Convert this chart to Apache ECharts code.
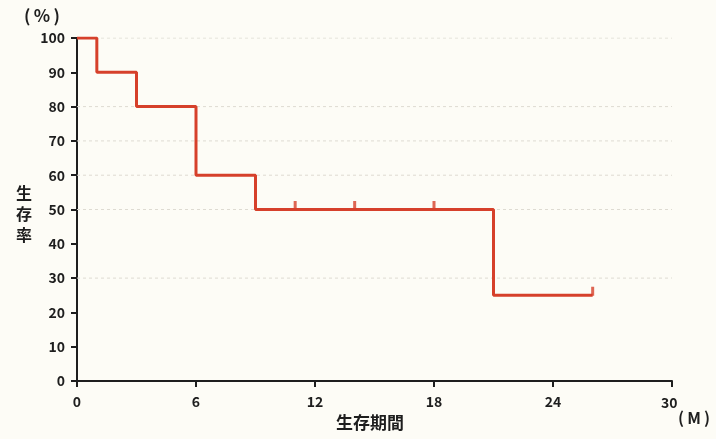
<!DOCTYPE html>
<html>
<head>
<meta charset="utf-8">
<script src="https://cdn.jsdelivr.net/npm/echarts@6/dist/echarts.min.js"></script>
<style>
  html, body { margin: 0; padding: 0; background: #fdfcf6; }
  #chart { width: 716px; height: 439px; }
</style>
</head>
<body>
<div id="chart"></div>
<script>
// Kaplan-Meier survival curve: step changes (months, survival %)
const eventMonths = [0, 1, 3, 6, 9, 21, 26];
const survivalPct = [100, 90, 80, 60, 50, 25, 25];
// censored observations
const censorMonths = [11, 14, 18, 26];
const censorPct = [50, 50, 50, 25];
// dashed reference levels
const gridLevels = [100, 80, 70, 60, 50, 30];

const xTicks = [0, 6, 12, 18, 24, 30];
const yTicks = [0, 10, 20, 30, 40, 50, 60, 70, 80, 90, 100];

const FONT = '"Noto Sans CJK JP", "Noto Sans", sans-serif';
const INK = '#1e1e1e';
const RED = '#d6402b';

const xMin = xTicks[0];
const xMax = xTicks[xTicks.length - 1];
const curve = eventMonths.map((m, i) => [m, survivalPct[i]]);
const censored = censorMonths.map((m, i) => [m, censorPct[i]]);

// faint dashed reference levels, drawn beneath the curve
const levelSeries = gridLevels.map(v => ({
  type: 'line',
  data: [[xMin, v], [xMax, v]],
  symbol: 'none',
  silent: true,
  z: 1,
  lineStyle: { color: '#dedbd2', type: [3, 3], width: 1 }
}));

const chart = echarts.init(document.getElementById('chart'));
chart.setOption({
  backgroundColor: '#fdfcf6',
  animation: false,
  grid: { left: 77, right: 44, top: 38, bottom: 58 },
  xAxis: {
    type: 'value',
    min: xMin, max: xMax, interval: 6,
    axisLine: { show: true, lineStyle: { color: INK, width: 2 } },
    axisTick: { show: true, length: 6, lineStyle: { color: INK, width: 2 } },
    splitLine: { show: false },
    axisLabel: {
      margin: 14, color: INK, fontFamily: FONT, fontWeight: 'bold', fontSize: 14,
      formatter: v => (v === xMax ? '' : String(v))
    }
  },
  yAxis: {
    type: 'value',
    min: yTicks[0], max: yTicks[yTicks.length - 1], interval: 10,
    axisLine: { show: true, lineStyle: { color: INK, width: 2 } },
    axisTick: { show: true, length: 6, lineStyle: { color: INK, width: 2 } },
    splitLine: { show: false },
    axisLabel: { margin: 12, color: INK, fontFamily: FONT, fontWeight: 'bold', fontSize: 14 }
  },
  graphic: [
    { type: 'text', left: 24, top: 7, style: { text: '(\u2009%\u2009)', fill: INK, font: 'bold 17px ' + FONT } },
    { type: 'text', left: 16, top: 182, style: { text: '生\n存\n率', fill: INK, font: 'bold 16px ' + FONT, lineHeight: 21 } },
    { type: 'text', left: 336, top: 414, style: { text: '生存期間', fill: INK, font: 'bold 17px ' + FONT } },
    { type: 'text', left: 661, top: 396, style: { text: String(xMax), fill: INK, font: 'bold 14px ' + FONT } },
    { type: 'text', left: 678, top: 410, style: { text: '(\u2009M\u2009)', fill: INK, font: 'bold 16px ' + FONT } }
  ],
  series: levelSeries.concat([
    {
      type: 'line',
      data: curve,
      step: 'end',
      symbol: 'none',
      lineStyle: { color: RED, width: 3 },
      z: 3
    },
    {
      type: 'scatter',
      data: censored,
      symbol: 'rect',
      symbolSize: [3, 9],
      symbolOffset: [0, -4],
      itemStyle: { color: RED },
      z: 4
    }
  ])
});
</script>
</body>
</html>
